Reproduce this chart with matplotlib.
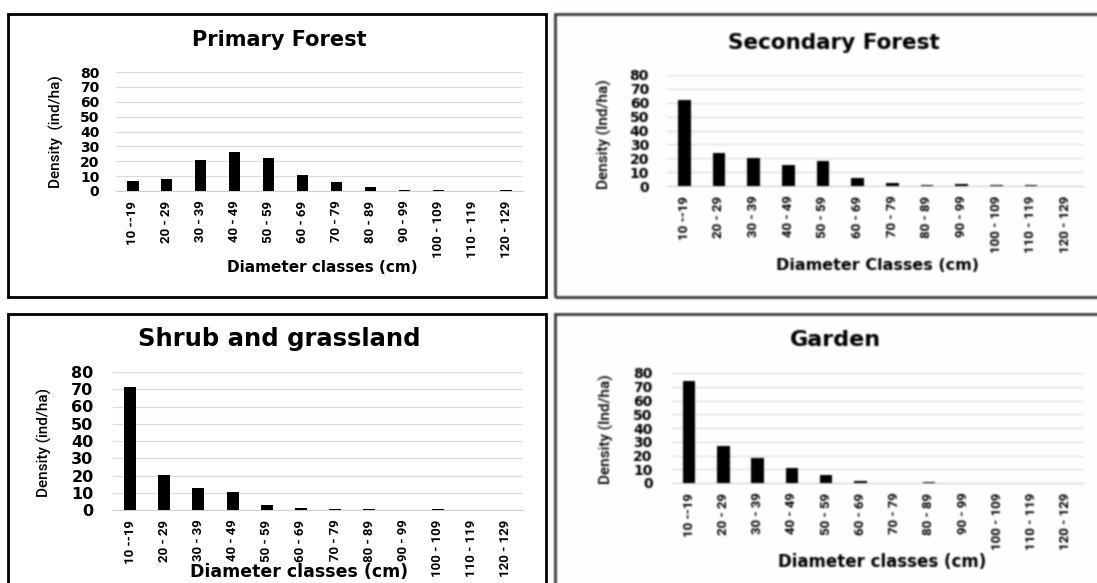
import numpy as np
import matplotlib.pyplot as plt
from matplotlib.patches import Rectangle

# diameter classes shared by all four stands
classes = ["10 --19", "20 - 29", "30 - 39", "40 - 49", "50 - 59", "60 - 69",
           "70 - 79", "80 - 89", "90 - 99", "100 - 109", "110 - 119", "120 - 129"]

primary   = [7, 8, 21, 26, 22, 11, 6, 3, 1, 0.5, 0, 0.5]
secondary = [62, 24, 20, 15, 18, 6, 2.5, 1, 1.5, 1, 0.5, 0]
shrub     = [71.5, 20.5, 13, 10.2, 2.7, 1.2, 0.6, 0.3, 0, 0.3, 0, 0]
garden    = [74, 27, 18, 10.7, 6, 1.5, 0.3, 0.4, 0, 0, 0, 0]

W, H = 1097, 583
NARROW = ["Roboto", "DejaVu Sans"]
WIDE = ["DejaVu Sans"]

fig = plt.figure(figsize=(W / 100, H / 100), dpi=100)
fig.patch.set_facecolor("white")


def frac(x, y):
    return x / W, 1 - y / H


def frame(x0, y0, x1, y1, color, lw):
    fx, fy = frac(x0, y1)
    fig.patches.append(Rectangle((fx, fy), (x1 - x0) / W, (y1 - y0) / H,
                                 transform=fig.transFigure, fill=False,
                                 ec=color, lw=lw, zorder=0))


def panel(values, rect, bar_w, title, title_xy, title_fs, ylabel, ylabel_xy,
          xlabel, xlabel_xy, xlabel_fs, ytick_fs, ypad):
    x0, y0, x1, y1 = rect
    ax = fig.add_axes([x0 / W, 1 - y1 / H, (x1 - x0) / W, (y1 - y0) / H])
    x = np.arange(len(classes))
    ax.bar(x, values, width=bar_w, color="black", zorder=3)
    ax.set_xlim(-0.5, len(classes) - 0.5)
    ax.set_ylim(0, 80)
    ax.set_yticks(np.arange(0, 81, 10))
    ax.grid(axis="y", color="#dcdcdc", lw=0.9, zorder=0)
    for s in ["top", "right", "left"]:
        ax.spines[s].set_visible(False)
    ax.spines["bottom"].set_color("#d0d0d0")
    ax.tick_params(length=0)
    ax.tick_params(axis="y", pad=ypad)
    ax.tick_params(axis="x", pad=7)
    ax.set_xticks(x)
    ax.set_xticklabels(classes, rotation=90, family=NARROW, fontweight="bold",
                       fontsize=9.5)
    for lab in ax.get_yticklabels():
        lab.set_family(WIDE)
        lab.set_fontweight("bold")
        lab.set_fontsize(ytick_fs)

    fig.text(*frac(*title_xy), title, ha="center", va="center",
             fontsize=title_fs, fontweight="bold", family=WIDE)
    fig.text(*frac(*ylabel_xy), ylabel, ha="center", va="center",
             rotation=90, fontsize=11, family=NARROW, fontweight="medium")
    fig.text(*frac(*xlabel_xy), xlabel, ha="center", va="center",
             fontsize=xlabel_fs, fontweight="bold", family=WIDE)
    return ax


def soften(a, sigma, r=2):
    # small separable gaussian, used on the scanned-looking right column
    k = np.exp(-0.5 * (np.arange(-r, r + 1) / sigma) ** 2)
    k /= k.sum()
    p = np.pad(a, ((r, r), (0, 0), (0, 0)), mode="edge")
    a = sum(k[i] * p[i:i + a.shape[0]] for i in range(2 * r + 1))
    p = np.pad(a, ((0, 0), (r, r), (0, 0)), mode="edge")
    return sum(k[i] * p[:, i:i + a.shape[1]] for i in range(2 * r + 1))


# outer frames around each chart
frame(8, 14, 546, 297, "black", 2)
frame(555, 14, 1102, 297, "#3a3a3a", 2)
frame(8, 314, 546, 590, "black", 2)
frame(555, 314, 1102, 590, "#3a3a3a", 2)

panel(primary, (116, 72, 523, 191), 0.33, "Primary Forest", (279, 40), 15,
      "Density  (ind/ha)", (56, 132), "Diameter classes (cm)", (322, 267),
      11, 10, 12)
panel(secondary, (667, 75, 1083, 186), 0.36, "Secondary Forest", (834, 43), 15.5,
      "Density (Ind/ha)", (604, 134), "Diameter Classes (cm)", (877, 266),
      11.5, 10, 13)
panel(shrub, (113, 372, 523, 510), 0.35, "Shrub and grassland", (279, 339), 17.5,
      "Density (ind/ha)", (44, 442), "Diameter classes (cm)", (299, 572),
      12.5, 11.5, 14)
panel(garden, (672, 373, 1083, 483), 0.36, "Garden", (835, 340), 16,
      "Density (Ind/ha)", (606, 429), "Diameter classes (cm)", (882, 562),
      12, 10, 14)

fig.canvas.draw()
img = np.asarray(fig.canvas.buffer_rgba())[..., :3].astype(float) / 255
img[:, 552:] = soften(img[:, 552:], 0.9)
plt.imsave("out.png", np.clip(img, 0, 1))
